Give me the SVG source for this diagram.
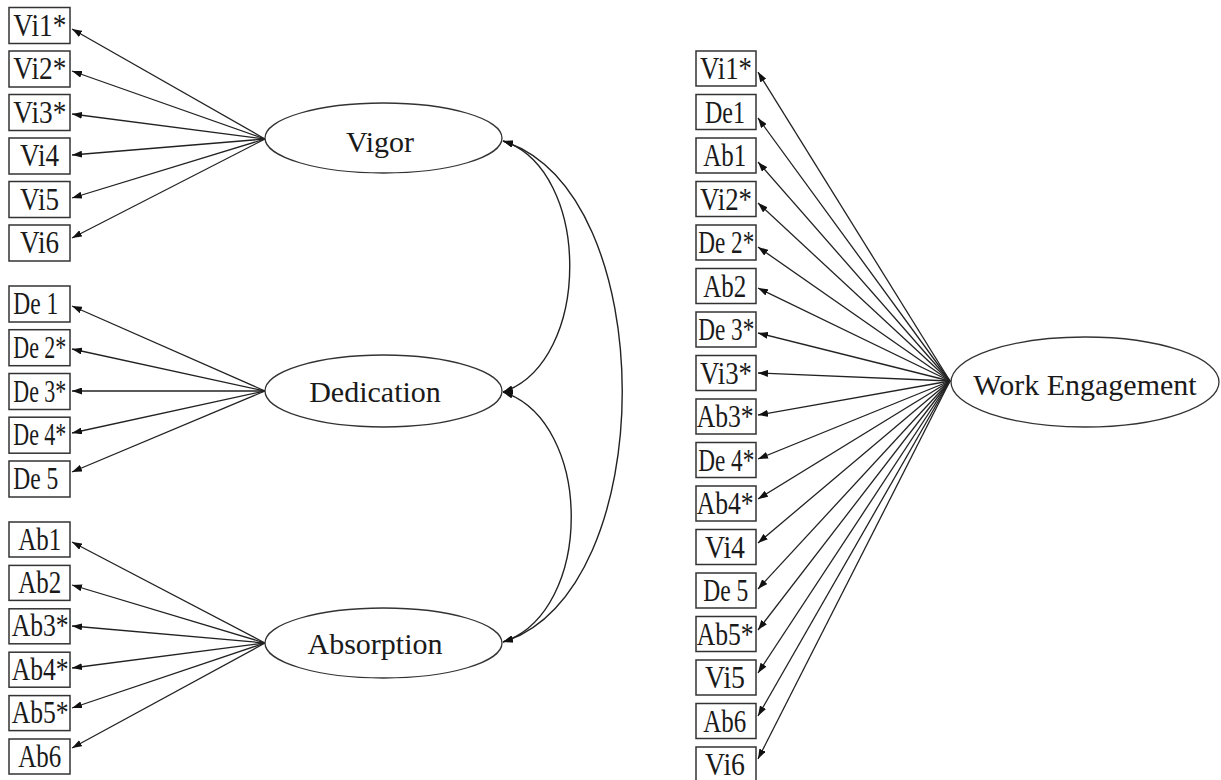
<svg xmlns="http://www.w3.org/2000/svg" width="1221" height="780" viewBox="0 0 1221 780">
  <style>
    .box { fill: #ffffff; stroke: #333333; stroke-width: 1.5; }
    .lat { fill: #ffffff; stroke: #333333; stroke-width: 1.3; }
    .ind { font-family: "Liberation Serif", "Times New Roman", serif; font-size: 31px; fill: #1a1a1a; }
    .fac { font-family: "Liberation Serif", "Times New Roman", serif; font-size: 30px; fill: #1a1a1a; text-anchor: middle; }
    .load { fill: none; stroke: #222222; stroke-width: 1.3; marker-end: url(#head); }
    .cov { fill: none; stroke: #222222; stroke-width: 1.4; marker-start: url(#head); marker-end: url(#head); }
  </style>
  <defs>
    <marker id="head" viewBox="0 0 10 7" refX="10" refY="3.5" markerWidth="10" markerHeight="7" markerUnits="userSpaceOnUse" orient="auto-start-reverse">
      <path d="M0,0 L10,3.5 L0,7 z" fill="#111111"/>
    </marker>
  </defs>
  <rect width="1221" height="780" fill="#ffffff"/>

  <!-- three-factor model: loadings and factor covariances -->
  <g id="connectors">
    <!-- Vigor loadings -->
    <line class="load" x1="265" y1="139" x2="72" y2="29"/>
    <line class="load" x1="265" y1="139" x2="72" y2="71"/>
    <line class="load" x1="265" y1="139" x2="72" y2="114"/>
    <line class="load" x1="265" y1="139" x2="72" y2="155"/>
    <line class="load" x1="265" y1="139" x2="72" y2="198"/>
    <line class="load" x1="265" y1="139" x2="72" y2="238"/>
    <!-- Dedication loadings -->
    <line class="load" x1="265" y1="391" x2="72" y2="306"/>
    <line class="load" x1="265" y1="391" x2="72" y2="349"/>
    <line class="load" x1="265" y1="391" x2="72" y2="391"/>
    <line class="load" x1="265" y1="391" x2="72" y2="433"/>
    <line class="load" x1="265" y1="391" x2="72" y2="472"/>
    <!-- Absorption loadings -->
    <line class="load" x1="265" y1="643" x2="72" y2="542"/>
    <line class="load" x1="265" y1="643" x2="72" y2="585"/>
    <line class="load" x1="265" y1="643" x2="72" y2="626"/>
    <line class="load" x1="265" y1="643" x2="72" y2="668"/>
    <line class="load" x1="265" y1="643" x2="72" y2="708"/>
    <line class="load" x1="265" y1="643" x2="72" y2="748"/>
    <!-- factor covariances -->
    <path class="cov" d="M503,141 C592,170 592,362 503,392"/>
    <path class="cov" d="M503,141 C662,190 662,593 503,642"/>
    <path class="cov" d="M503,392 C594,422 594,612 503,642"/>
    <!-- one-factor model loadings -->
    <line class="load" x1="950" y1="381" x2="758" y2="72"/>
    <line class="load" x1="950" y1="381" x2="758" y2="118"/>
    <line class="load" x1="950" y1="381" x2="758" y2="162"/>
    <line class="load" x1="950" y1="381" x2="758" y2="203"/>
    <line class="load" x1="950" y1="381" x2="758" y2="247"/>
    <line class="load" x1="950" y1="381" x2="758" y2="288"/>
    <line class="load" x1="950" y1="381" x2="758" y2="333"/>
    <line class="load" x1="950" y1="381" x2="758" y2="373"/>
    <line class="load" x1="950" y1="381" x2="758" y2="415"/>
    <line class="load" x1="950" y1="381" x2="758" y2="459"/>
    <line class="load" x1="950" y1="381" x2="758" y2="499"/>
    <line class="load" x1="950" y1="381" x2="758" y2="543"/>
    <line class="load" x1="950" y1="381" x2="758" y2="589"/>
    <line class="load" x1="950" y1="381" x2="758" y2="630"/>
    <line class="load" x1="950" y1="381" x2="758" y2="673"/>
    <line class="load" x1="950" y1="381" x2="758" y2="716"/>
    <line class="load" x1="950" y1="381" x2="758" y2="759"/>
  </g>

  <!-- latent factors -->
  <g id="vigor"><ellipse class="lat" cx="383.5" cy="138" rx="118.5" ry="35"/><text class="fac" x="380" y="152">Vigor</text></g>
  <g id="dedication"><ellipse class="lat" cx="383.5" cy="391" rx="118.5" ry="36"/><text class="fac" x="375" y="402">Dedication</text></g>
  <g id="absorption"><ellipse class="lat" cx="383.5" cy="643" rx="118.5" ry="35"/><text class="fac" x="375" y="654">Absorption</text></g>
  <g id="work-engagement"><ellipse class="lat" cx="1085" cy="382" rx="134" ry="45"/><text class="fac" x="1085" y="395">Work Engagement</text></g>

  <!-- indicators, three-factor model -->
  <g id="l-vi1"><rect class="box" x="9" y="7.5" width="61" height="36"/><text class="ind" x="13.3" y="35.5" textLength="53" lengthAdjust="spacingAndGlyphs">Vi1*</text></g>
  <g id="l-vi2"><rect class="box" x="9" y="51" width="61" height="36"/><text class="ind" x="13.3" y="79" textLength="53" lengthAdjust="spacingAndGlyphs">Vi2*</text></g>
  <g id="l-vi3"><rect class="box" x="9" y="94.5" width="61" height="36"/><text class="ind" x="13.3" y="122.5" textLength="53" lengthAdjust="spacingAndGlyphs">Vi3*</text></g>
  <g id="l-vi4"><rect class="box" x="9" y="138" width="61" height="36"/><text class="ind" x="20" y="166" textLength="39" lengthAdjust="spacingAndGlyphs">Vi4</text></g>
  <g id="l-vi5"><rect class="box" x="9" y="181.5" width="61" height="36"/><text class="ind" x="20" y="209.5" textLength="39" lengthAdjust="spacingAndGlyphs">Vi5</text></g>
  <g id="l-vi6"><rect class="box" x="9" y="225" width="61" height="36"/><text class="ind" x="20" y="253" textLength="39" lengthAdjust="spacingAndGlyphs">Vi6</text></g>

  <g id="l-de1"><rect class="box" x="9" y="286" width="61" height="36"/><text class="ind" x="13.3" y="314" textLength="45" lengthAdjust="spacingAndGlyphs">De 1</text></g>
  <g id="l-de2"><rect class="box" x="9" y="329.7" width="61" height="36"/><text class="ind" x="13.3" y="357.7" textLength="53" lengthAdjust="spacingAndGlyphs">De 2*</text></g>
  <g id="l-de3"><rect class="box" x="9" y="373.5" width="61" height="36"/><text class="ind" x="13.3" y="401.5" textLength="53" lengthAdjust="spacingAndGlyphs">De 3*</text></g>
  <g id="l-de4"><rect class="box" x="9" y="417.2" width="61" height="36"/><text class="ind" x="13.3" y="445.2" textLength="53" lengthAdjust="spacingAndGlyphs">De 4*</text></g>
  <g id="l-de5"><rect class="box" x="9" y="461" width="61" height="36"/><text class="ind" x="13.3" y="489" textLength="45" lengthAdjust="spacingAndGlyphs">De 5</text></g>

  <g id="l-ab1"><rect class="box" x="9" y="522" width="61" height="35"/><text class="ind" x="18.3" y="549.5" textLength="43" lengthAdjust="spacingAndGlyphs">Ab1</text></g>
  <g id="l-ab2"><rect class="box" x="9" y="565.4" width="61" height="35"/><text class="ind" x="18.3" y="592.9" textLength="43" lengthAdjust="spacingAndGlyphs">Ab2</text></g>
  <g id="l-ab3"><rect class="box" x="9" y="608.8" width="61" height="35"/><text class="ind" x="11.7" y="636.3" textLength="57" lengthAdjust="spacingAndGlyphs">Ab3*</text></g>
  <g id="l-ab4"><rect class="box" x="9" y="652.2" width="61" height="35"/><text class="ind" x="11.7" y="679.7" textLength="57" lengthAdjust="spacingAndGlyphs">Ab4*</text></g>
  <g id="l-ab5"><rect class="box" x="9" y="695.6" width="61" height="35"/><text class="ind" x="11.7" y="723.1" textLength="57" lengthAdjust="spacingAndGlyphs">Ab5*</text></g>
  <g id="l-ab6"><rect class="box" x="9" y="739" width="61" height="35"/><text class="ind" x="18.3" y="766.5" textLength="43" lengthAdjust="spacingAndGlyphs">Ab6</text></g>

  <!-- indicators, one-factor model -->
  <g id="r-vi1"><rect class="box" x="696" y="51" width="60" height="35"/><text class="ind" x="700" y="79" textLength="52" lengthAdjust="spacingAndGlyphs">Vi1*</text></g>
  <g id="r-de1"><rect class="box" x="696" y="94.5" width="60" height="35"/><text class="ind" x="705" y="122.5" textLength="40" lengthAdjust="spacingAndGlyphs">De1</text></g>
  <g id="r-ab1"><rect class="box" x="696" y="138" width="60" height="35"/><text class="ind" x="703.3" y="166" textLength="43" lengthAdjust="spacingAndGlyphs">Ab1</text></g>
  <g id="r-vi2"><rect class="box" x="696" y="181.5" width="60" height="35"/><text class="ind" x="700" y="209.5" textLength="52" lengthAdjust="spacingAndGlyphs">Vi2*</text></g>
  <g id="r-de2"><rect class="box" x="696" y="225" width="60" height="35"/><text class="ind" x="698.3" y="253" textLength="56" lengthAdjust="spacingAndGlyphs">De 2*</text></g>
  <g id="r-ab2"><rect class="box" x="696" y="268.5" width="60" height="35"/><text class="ind" x="703.3" y="296.5" textLength="43" lengthAdjust="spacingAndGlyphs">Ab2</text></g>
  <g id="r-de3"><rect class="box" x="696" y="312" width="60" height="35"/><text class="ind" x="698.3" y="340" textLength="56" lengthAdjust="spacingAndGlyphs">De 3*</text></g>
  <g id="r-vi3"><rect class="box" x="696" y="355.5" width="60" height="35"/><text class="ind" x="700" y="383.5" textLength="52" lengthAdjust="spacingAndGlyphs">Vi3*</text></g>
  <g id="r-ab3"><rect class="box" x="696" y="399" width="60" height="35"/><text class="ind" x="696.7" y="427" textLength="57" lengthAdjust="spacingAndGlyphs">Ab3*</text></g>
  <g id="r-de4"><rect class="box" x="696" y="442.5" width="60" height="35"/><text class="ind" x="698.3" y="470.5" textLength="56" lengthAdjust="spacingAndGlyphs">De 4*</text></g>
  <g id="r-ab4"><rect class="box" x="696" y="486" width="60" height="35"/><text class="ind" x="696.7" y="514" textLength="57" lengthAdjust="spacingAndGlyphs">Ab4*</text></g>
  <g id="r-vi4"><rect class="box" x="696" y="529.5" width="60" height="35"/><text class="ind" x="705" y="557.5" textLength="40" lengthAdjust="spacingAndGlyphs">Vi4</text></g>
  <g id="r-de5"><rect class="box" x="696" y="573" width="60" height="35"/><text class="ind" x="703.3" y="601" textLength="45" lengthAdjust="spacingAndGlyphs">De 5</text></g>
  <g id="r-ab5"><rect class="box" x="696" y="616.5" width="60" height="35"/><text class="ind" x="696.7" y="644.5" textLength="57" lengthAdjust="spacingAndGlyphs">Ab5*</text></g>
  <g id="r-vi5"><rect class="box" x="696" y="660" width="60" height="35"/><text class="ind" x="705" y="688" textLength="40" lengthAdjust="spacingAndGlyphs">Vi5</text></g>
  <g id="r-ab6"><rect class="box" x="696" y="703.5" width="60" height="35"/><text class="ind" x="703.3" y="731.5" textLength="43" lengthAdjust="spacingAndGlyphs">Ab6</text></g>
  <g id="r-vi6"><rect class="box" x="696" y="747" width="60" height="35"/><text class="ind" x="705" y="775" textLength="40" lengthAdjust="spacingAndGlyphs">Vi6</text></g>
</svg>
